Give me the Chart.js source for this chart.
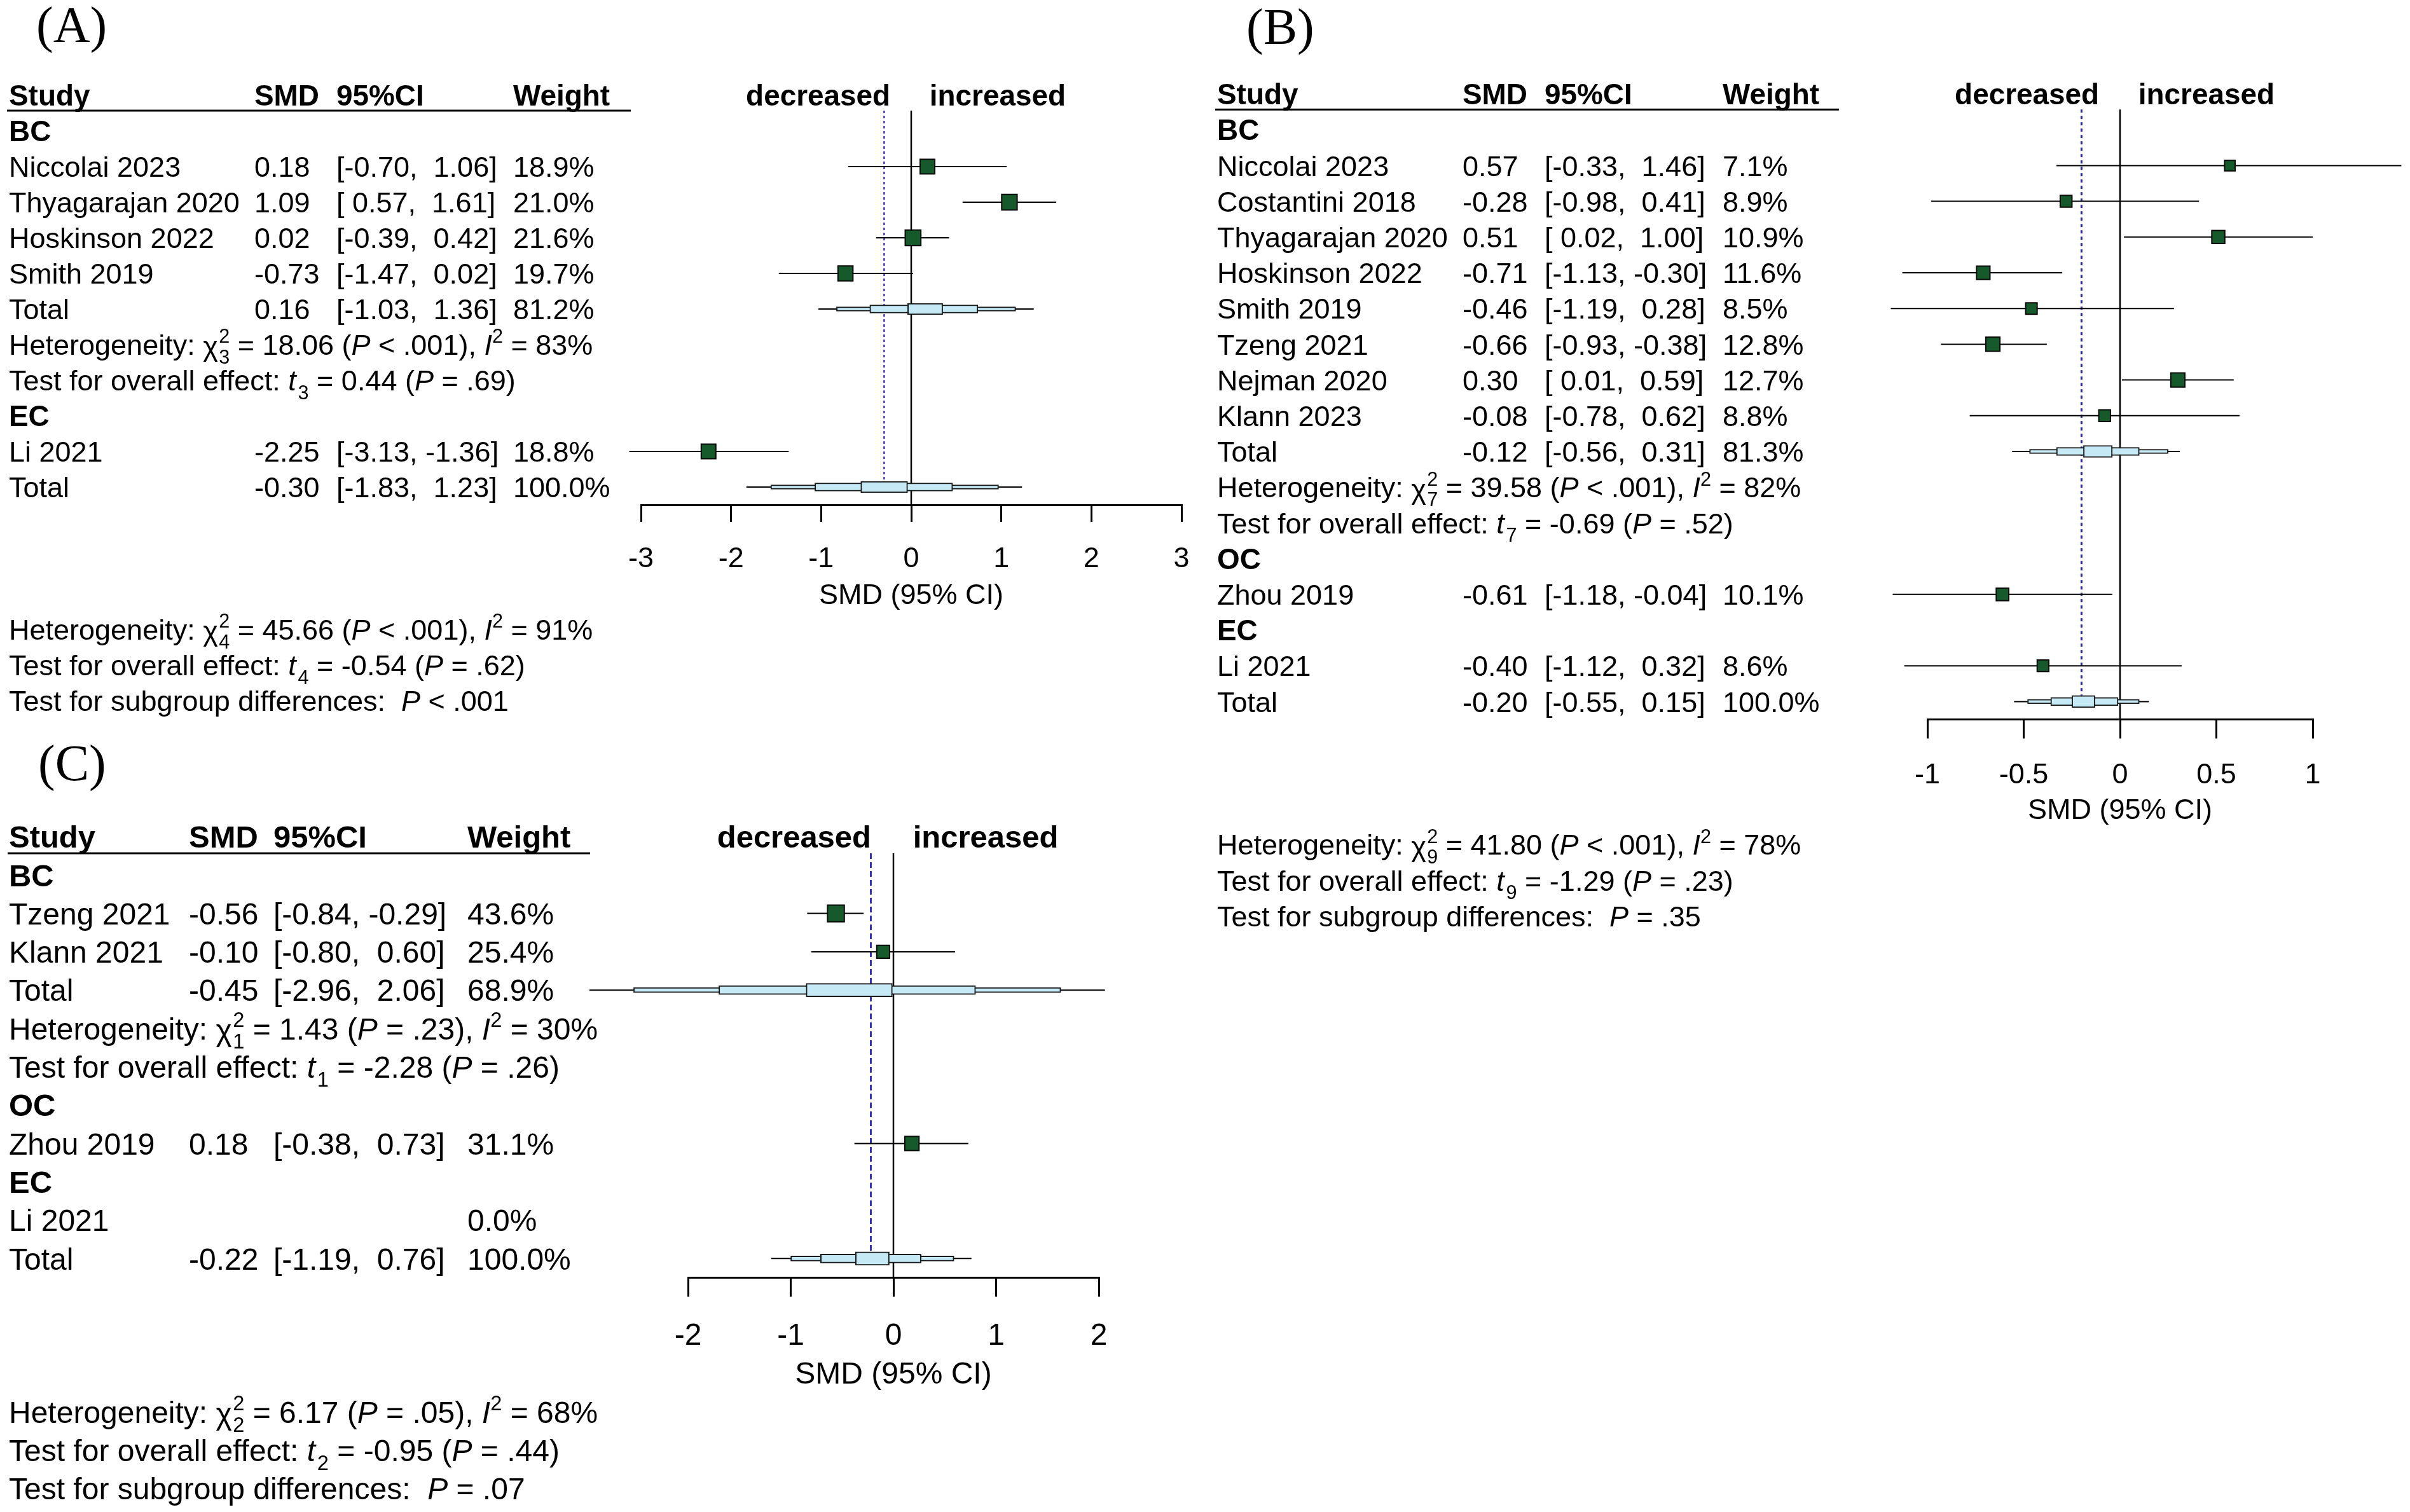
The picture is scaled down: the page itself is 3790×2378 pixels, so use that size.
<!DOCTYPE html>
<html lang="en">
<head>
<meta charset="UTF-8">
<title>Forest plots (A) (B) (C)</title>
<script src="https://cdn.jsdelivr.net/npm/chart.js"></script>
<style>
  html, body { margin: 0; padding: 0; background: #ffffff; }
  #page { position: relative; width: 3790px; height: 2378px; overflow: hidden; background: #ffffff; }
  #page canvas { position: absolute; left: 0; top: 0; }
</style>
</head>
<body>
<div id="page">
  <canvas id="chartA" width="3790" height="2378"></canvas>
  <canvas id="chartB" width="3790" height="2378"></canvas>
  <canvas id="chartC" width="3790" height="2378"></canvas>
</div>
<script>
const SANS = '"Liberation Sans", Arial, sans-serif';
const SERIF = '"Liberation Serif", "Times New Roman", serif';

// text helpers for the statistics lines
const het = (df, q, p, i2) => [['Heterogeneity: ', 'n'], [df, 'chi'], [' = ' + q + ' (', 'n'], ['P', 'i'], [' ' + p + '), ', 'n'], ['I', 'i'], ['2', 'sup'], [' = ' + i2 + '%', 'n']];
const eff = (df, t, p) => [['Test for overall effect: ', 'n'], ['t', 'i'], [df, 'sub'], [' = ' + t + ' (', 'n'], ['P', 'i'], [' ' + p + ')', 'n']];
const sgd = (p) => [['Test for subgroup differences:  ', 'n'], ['P', 'i'], [' ' + p, 'n']];

// ---- panel A ----
const aStudy  = ['Niccolai 2023', 'Thyagarajan 2020', 'Hoskinson 2022', 'Smith 2019', 'Li 2021'];
const aGroup  = ['BC', 'BC', 'BC', 'BC', 'EC'];
const aSmd    = [0.18, 1.09, 0.02, -0.73, -2.25];
const aLo     = [-0.70, 0.57, -0.39, -1.47, -3.13];
const aHi     = [1.06, 1.61, 0.42, 0.02, -1.36];
const aWeight = [18.9, 21.0, 21.6, 19.7, 18.8];
const aSubGroup  = ['BC'];
const aSubSmd    = [0.16];
const aSubLo     = [-1.03];
const aSubHi     = [1.36];
const aSubWeight = [81.2];
const aSubBands  = [[[-0.83, 1.16], [-0.46, 0.74], [-0.04, 0.35]]];
const aSubHet    = [het('3', '18.06', '< .001', '83')];
const aSubTest   = [eff('3', '0.44', '= .69')];
const aAll       = [-0.30, -1.83, 1.23, 100.0];
const aAllBands  = [[-1.56, 0.97], [-1.07, 0.46], [-0.56, -0.04]];
const aAllStats  = [het('4', '45.66', '< .001', '91'), eff('4', '-0.54', '= .62'), sgd('< .001')];

// ---- panel B ----
const bStudy  = ['Niccolai 2023', 'Costantini 2018', 'Thyagarajan 2020', 'Hoskinson 2022', 'Smith 2019', 'Tzeng 2021', 'Nejman 2020', 'Klann 2023', 'Zhou 2019', 'Li 2021'];
const bGroup  = ['BC', 'BC', 'BC', 'BC', 'BC', 'BC', 'BC', 'BC', 'OC', 'EC'];
const bSmd    = [0.57, -0.28, 0.51, -0.71, -0.46, -0.66, 0.30, -0.08, -0.61, -0.40];
const bLo     = [-0.33, -0.98, 0.02, -1.13, -1.19, -0.93, 0.01, -0.78, -1.18, -1.12];
const bHi     = [1.46, 0.41, 1.00, -0.30, 0.28, -0.38, 0.59, 0.62, -0.04, 0.32];
const bWeight = [7.1, 8.9, 10.9, 11.6, 8.5, 12.8, 12.7, 8.8, 10.1, 8.6];
const bSubGroup  = ['BC'];
const bSubSmd    = [-0.12];
const bSubLo     = [-0.56];
const bSubHi     = [0.31];
const bSubWeight = [81.3];
const bSubBands  = [[[-0.47, 0.25], [-0.33, 0.10], [-0.19, -0.04]]];
const bSubHet    = [het('7', '39.58', '< .001', '82')];
const bSubTest   = [eff('7', '-0.69', '= .52')];
const bAll       = [-0.20, -0.55, 0.15, 100.0];
const bAllBands  = [[-0.48, 0.10], [-0.36, -0.01], [-0.25, -0.13]];
const bAllStats  = [het('9', '41.80', '< .001', '78'), eff('9', '-1.29', '= .23'), sgd('= .35')];

// ---- panel C ----
const cStudy  = ['Tzeng 2021', 'Klann 2021', 'Zhou 2019', 'Li 2021'];
const cGroup  = ['BC', 'BC', 'OC', 'EC'];
const cSmd    = [-0.56, -0.10, 0.18, null];
const cLo     = [-0.84, -0.80, -0.38, null];
const cHi     = [-0.29, 0.60, 0.73, null];
const cWeight = [43.6, 25.4, 31.1, 0.0];
const cSubGroup  = ['BC'];
const cSubSmd    = [-0.45];
const cSubLo     = [-2.96];
const cSubHi     = [2.06];
const cSubWeight = [68.9];
const cSubBands  = [[[-2.53, 1.63], [-1.70, 0.80], [-0.85, -0.01]]];
const cSubHet    = [het('1', '1.43', '= .23', '30')];
const cSubTest   = [eff('1', '-2.28', '= .26')];
const cAll       = [-0.22, -1.19, 0.76, 100.0];
const cAllBands  = [[-1.00, 0.59], [-0.71, 0.27], [-0.37, -0.04]];
const cAllStats  = [het('2', '6.17', '= .05', '68'), eff('2', '-0.95', '= .44'), sgd('= .07')];

const panelA = {
  study: aStudy, group: aGroup, smd: aSmd, lo: aLo, hi: aHi, weight: aWeight,
  subGroup: aSubGroup, subSmd: aSubSmd, subLo: aSubLo, subHi: aSubHi, subWeight: aSubWeight,
  subBands: aSubBands, subHet: aSubHet, subTest: aSubTest, all: aAll, allBands: aAllBands, allStats: aAllStats,
  look: { letter: '(A)', letterX: 57, letterY: 66, rowTop: 150, rowH: 56, font: 45, xMin: -3, xMax: 3, step: 1,
          xLeft: 1008, xRight: 1858, tickLen: 27, cols: [14, 400, 529, 807], rule: [11, 992],
          boxK: 5.3, bands: [7, 13, 18], refColor: '#6450cc', refDash: [4, 4] }
};
const panelB = {
  study: bStudy, group: bGroup, smd: bSmd, lo: bLo, hi: bHi, weight: bWeight,
  subGroup: bSubGroup, subSmd: bSubSmd, subLo: bSubLo, subHi: bSubHi, subWeight: bSubWeight,
  subBands: bSubBands, subHet: bSubHet, subTest: bSubTest, all: bAll, allBands: bAllBands, allStats: bAllStats,
  look: { letter: '(B)', letterX: 1960, letterY: 69, rowTop: 148, rowH: 56.2, font: 45, xMin: -1, xMax: 1, step: 0.5,
          xLeft: 3031, xRight: 3637, tickLen: 30, cols: [1914, 2300, 2429, 2709], rule: [1911, 2892],
          boxK: 6.2, bands: [7, 13, 19], refColor: '#2a2a9a', refDash: [5, 5] }
};
const panelC = {
  study: cStudy, group: cGroup, smd: cSmd, lo: cLo, hi: cHi, weight: cWeight,
  subGroup: cSubGroup, subSmd: cSubSmd, subLo: cSubLo, subHi: cSubHi, subWeight: cSubWeight,
  subBands: cSubBands, subHet: cSubHet, subTest: cSubTest, all: cAll, allBands: cAllBands, allStats: cAllStats,
  look: { letter: '(C)', letterX: 60, letterY: 1227, rowTop: 1316, rowH: 60.3, font: 48, xMin: -2, xMax: 2, step: 1,
          xLeft: 1082, xRight: 1728, tickLen: 30, cols: [14, 297, 430, 735], rule: [12, 928],
          boxK: 4.0, bands: [8, 14, 21], refColor: '#3434c4', refDash: [9, 5] }
};

function fmtCi(lo, hi) {
  const f = v => (v < 0 ? '' : ' ') + v.toFixed(2);
  return '[' + f(lo) + ', ' + f(hi) + ']';
}

// table rows: header, then per group: label, studies, (subtotal, heterogeneity, effect), then overall total
function buildRows(P) {
  const rows = [{ kind: 'head' }];
  const groups = [...new Set(P.group)];
  groups.forEach(g => {
    rows.push({ kind: 'group', label: g });
    P.study.forEach((s, i) => { if (P.group[i] === g) rows.push({ kind: 'study', i }); });
    const j = P.subGroup.indexOf(g);
    if (j >= 0) {
      rows.push({ kind: 'sub', j });
      rows.push({ kind: 'het', j });
      rows.push({ kind: 'test', j });
    }
  });
  rows.push({ kind: 'all' });
  return rows;
}

function drawRich(ctx, parts, x, base, size) {
  let cx = x;
  const small = size * 0.68;
  ctx.textAlign = 'left';
  parts.forEach(([t, k]) => {
    if (k === 'chi') {
      ctx.font = size + 'px ' + SANS;
      ctx.fillText('\u03c7', cx, base + size * 0.05);
      cx += ctx.measureText('\u03c7').width + size * 0.03;
      ctx.font = small + 'px ' + SANS;
      ctx.fillText('2', cx, base - size * 0.42);
      ctx.fillText(t, cx, base + size * 0.3);
      cx += Math.max(ctx.measureText('2').width, ctx.measureText(t).width);
    } else if (k === 'sup' || k === 'sub') {
      ctx.font = small + 'px ' + SANS;
      const dy = k === 'sup' ? -size * 0.42 : size * 0.3;
      cx += k === 'sub' ? size * 0.06 : 0;
      ctx.fillText(t, cx, base + dy);
      cx += ctx.measureText(t).width;
    } else {
      ctx.font = (k === 'i' ? 'italic ' : '') + size + 'px ' + SANS;
      ctx.fillText(t, cx, base);
      cx += ctx.measureText(t).width;
    }
  });
}

function drawTable(chart, P, rows) {
  const L = P.look;
  const ctx = chart.ctx;
  const yS = chart.scales.y;
  const xS = chart.scales.x;
  const fs = L.font;
  const base = k => yS.getPixelForValue(k) + 0.36 * fs;
  const norm = fs + 'px ' + SANS;
  const bold = 'bold ' + (fs * 1.02) + 'px ' + SANS;
  const [c0, c1, c2, c3] = L.cols;
  ctx.save();
  ctx.fillStyle = '#000';
  ctx.textBaseline = 'alphabetic';
  ctx.textAlign = 'left';

  ctx.font = '80px ' + SERIF;
  ctx.fillText(L.letter, L.letterX, L.letterY);

  // header
  ctx.font = bold;
  ctx.fillText('Study', c0, base(0));
  ctx.fillText('SMD', c1, base(0));
  ctx.fillText('95%CI', c2, base(0));
  ctx.fillText('Weight', c3, base(0));
  ctx.strokeStyle = '#000';
  ctx.lineWidth = 3;
  ctx.beginPath();
  const uy = yS.getPixelForValue(0.43);
  ctx.moveTo(L.rule[0], uy);
  ctx.lineTo(L.rule[1], uy);
  ctx.stroke();

  const x0 = xS.getPixelForValue(0);
  ctx.textAlign = 'right';
  ctx.fillText('decreased', x0 - 0.73 * fs, base(0));
  ctx.textAlign = 'left';
  ctx.fillText('increased', x0 + 0.64 * fs, base(0));

  const valueRow = (k, label, smd, lo, hi, w) => {
    ctx.font = norm;
    ctx.fillText(label, c0, base(k));
    if (smd !== null) {
      ctx.fillText(smd.toFixed(2), c1, base(k));
      ctx.fillText(fmtCi(lo, hi), c2, base(k));
    }
    ctx.fillText(w.toFixed(1) + '%', c3, base(k));
  };

  rows.forEach((r, k) => {
    if (r.kind === 'group') {
      ctx.font = bold;
      ctx.fillText(r.label, c0, base(k));
    } else if (r.kind === 'study') {
      valueRow(k, P.study[r.i], P.smd[r.i], P.lo[r.i], P.hi[r.i], P.weight[r.i]);
    } else if (r.kind === 'sub') {
      valueRow(k, 'Total', P.subSmd[r.j], P.subLo[r.j], P.subHi[r.j], P.subWeight[r.j]);
    } else if (r.kind === 'het') {
      drawRich(ctx, P.subHet[r.j], c0, base(k), fs);
    } else if (r.kind === 'test') {
      drawRich(ctx, P.subTest[r.j], c0, base(k), fs);
    } else if (r.kind === 'all') {
      valueRow(k, 'Total', P.all[0], P.all[1], P.all[2], P.all[3]);
    }
  });

  const last = rows.length - 1;
  P.allStats.forEach((parts, m) => drawRich(ctx, parts, c0, base(last + 4 + m), fs));
  ctx.restore();
}

function makeForest(id, P) {
  const L = P.look;
  const rows = buildRows(P);
  const last = rows.length - 1;
  const yMax = last + 0.5;
  const axisY = L.rowTop + yMax * L.rowH;
  const axisH = 3.8 * L.font;
  const topRow = 0.43;
  const datasets = [];

  // overall-estimate reference line (dotted)
  datasets.push({
    type: 'line', data: [{ x: P.all[0], y: topRow }, { x: P.all[0], y: last - L.bands[2] / 2 / L.rowH }],
    borderColor: L.refColor, borderWidth: 3, borderDash: L.refDash, pointRadius: 0, order: 7, clip: false
  });
  // no-effect line
  datasets.push({
    type: 'line', data: [{ x: 0, y: topRow }, { x: 0, y: yMax }],
    borderColor: '#000', borderWidth: 2.5, pointRadius: 0, order: 6, clip: false
  });
  // study confidence intervals
  rows.forEach((r, k) => {
    if (r.kind === 'study' && P.smd[r.i] !== null) {
      datasets.push({
        type: 'line', data: [{ x: P.lo[r.i], y: k }, { x: P.hi[r.i], y: k }],
        borderColor: '#000', borderWidth: 2, pointRadius: 0, order: 5, clip: false
      });
    }
  });
  // summary estimates
  const sums = [];
  rows.forEach((r, k) => {
    if (r.kind === 'sub') sums.push({ k, lo: P.subLo[r.j], hi: P.subHi[r.j], bands: P.subBands[r.j] });
    if (r.kind === 'all') sums.push({ k, lo: P.all[1], hi: P.all[2], bands: P.allBands });
  });
  sums.forEach(s => datasets.push({
    type: 'line', data: [{ x: s.lo, y: s.k }, { x: s.hi, y: s.k }],
    borderColor: '#000', borderWidth: 2, pointRadius: 0, order: 4, clip: false
  }));
  [0, 1, 2].forEach(b => datasets.push({
    type: 'bar', indexAxis: 'y', grouped: false,
    data: sums.map(s => ({ x: s.bands[b], y: s.k })),
    barThickness: L.bands[b], backgroundColor: '#c6e9f6', borderColor: '#1a1a1a',
    borderWidth: 2, borderSkipped: false, order: 3 - b, clip: false
  }));
  // study squares, side grows with sqrt(weight)
  const pts = [], rad = [];
  rows.forEach((r, k) => {
    if (r.kind === 'study' && P.smd[r.i] !== null) {
      pts.push({ x: P.smd[r.i], y: k });
      rad.push(L.boxK * Math.sqrt(P.weight[r.i]) / Math.SQRT2);
    }
  });
  datasets.push({
    type: 'scatter', data: pts, pointStyle: 'rect', pointRadius: rad, pointHoverRadius: rad,
    backgroundColor: '#165a2b', borderColor: '#0a0a0a', borderWidth: 2, order: 0, clip: false
  });

  const canvas = document.getElementById(id);
  return new Chart(canvas.getContext('2d'), {
    type: 'scatter',
    data: { datasets },
    options: {
      responsive: false,
      animation: false,
      devicePixelRatio: 1,
      events: [],
      layout: { padding: { left: L.xLeft, right: canvas.width - L.xRight, top: L.rowTop, bottom: canvas.height - axisY - axisH } },
      plugins: { legend: { display: false }, tooltip: { enabled: false } },
      scales: {
        x: {
          type: 'linear', position: 'bottom', min: L.xMin, max: L.xMax, offset: false,
          afterFit: s => { s.height = axisH; },
          ticks: {
            stepSize: L.step, autoSkip: false, maxRotation: 0, color: '#000', padding: 0.7 * L.font,
            font: { family: SANS, size: L.font }, callback: v => String(v)
          },
          grid: { display: true, drawOnChartArea: false, drawTicks: true, tickLength: L.tickLen, color: '#000', lineWidth: 3, offset: false },
          border: { display: true, color: '#000', width: 3 },
          title: { display: true, text: 'SMD (95% CI)', color: '#000', padding: 0, font: { family: SANS, size: L.font } }
        },
        // rows run top to bottom; the bar datasets would otherwise switch on an offset here
        y: { type: 'linear', display: false, reverse: true, offset: false, min: 0, max: yMax, grid: { offset: false } }
      }
    },
    plugins: [{ id: 'forestText', afterDraw: c => drawTable(c, P, rows) }]
  });
}

makeForest('chartA', panelA);
makeForest('chartB', panelB);
makeForest('chartC', panelC);
</script>
</body>
</html>
